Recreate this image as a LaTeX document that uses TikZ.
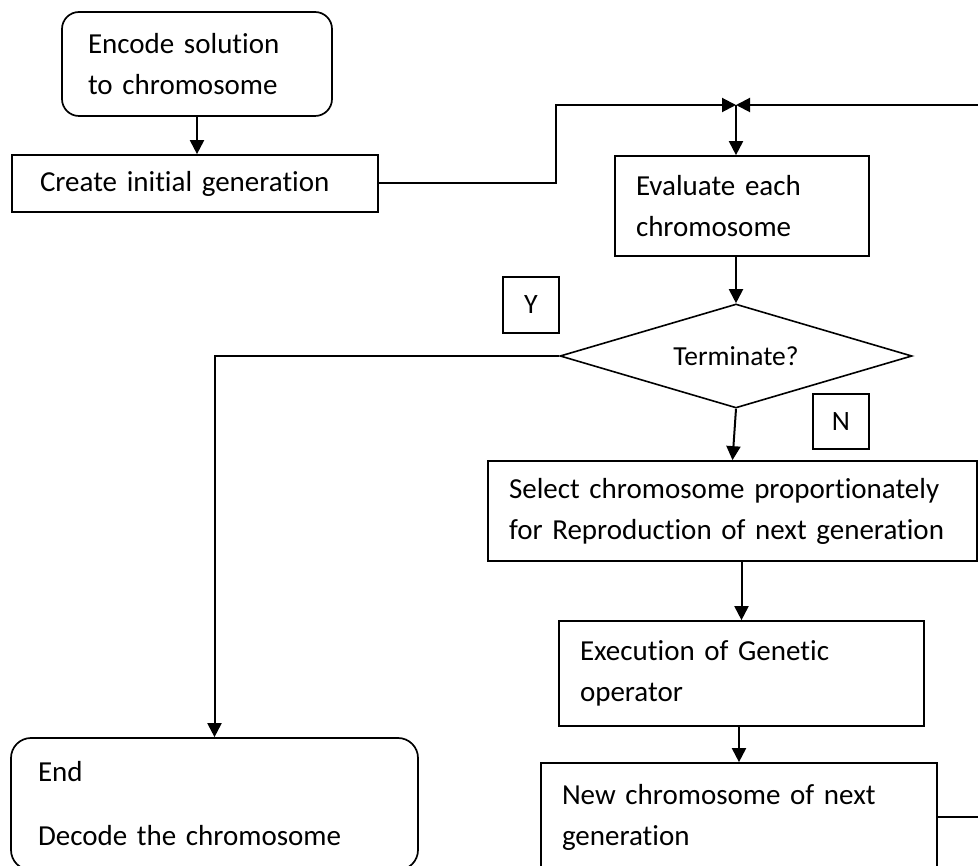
\documentclass[tikz,border=0pt]{standalone}
\usepackage{fontspec}
\setmainfont{Carlito}[Ligatures={NoCommon}]
\usetikzlibrary{shapes.geometric,arrows.meta}

\tikzset{
  stepbox/.style={draw, line width=1.7pt, rectangle, align=left,
    font=\fontsize{29pt}{41pt}\selectfont, inner ysep=0pt},
  roundbox/.style={stepbox, rounded corners=#1},
  decision/.style={draw, line width=1.6pt, diamond, inner sep=0pt,
    shape aspect=3.385, font=\fontsize{27.5pt}{30pt}\selectfont},
  tagbox/.style={draw, line width=1.3pt, rectangle, inner sep=0pt,
    minimum width=56pt, minimum height=56pt,
    font=\fontsize{28pt}{30pt}\selectfont},
  flow/.style={line width=2pt, -{Triangle[length=14pt,width=14pt]}},
}

\begin{document}
\begin{tikzpicture}[x=1pt, y=-1pt]
  \useasboundingbox (0,0) rectangle (978,866);

  % process boxes
  \node[roundbox=17pt, minimum width=270pt, minimum height=104pt,
        inner xsep=26pt, text width=218pt] (encode) at (197,64)
        {Encode solution\\to chromosome};
  \node[stepbox, minimum width=366pt, minimum height=57pt,
        inner xsep=28pt, text width=310pt] (create) at (195,183.5)
        {Create initial generation};
  \node[stepbox, minimum width=254pt, minimum height=100pt,
        inner xsep=21pt, text width=212pt] (eval) at (742,206)
        {Evaluate each\\chromosome};
  \node[decision, minimum width=352pt, minimum height=104pt] (dia) at (736,356)
        {\raisebox{-4pt}{Terminate?}};
  \node[tagbox] (yes) at (531,305) {Y};
  \node[tagbox, minimum height=55pt] (no) at (841,421.5) {N};
  \node[stepbox, minimum width=489pt, minimum height=100pt,
        inner xsep=21pt, text width=447pt] (select) at (732.5,511)
        {Select chromosome proportionately\\for Reproduction of next generation};
  \node[stepbox, minimum width=365pt, minimum height=105pt,
        inner xsep=21pt, text width=323pt] (exec) at (741.5,673.5)
        {Execution of Genetic\\operator};
  \node[stepbox, minimum width=396pt, minimum height=108pt,
        inner xsep=21pt, text width=354pt] (new) at (739,817)
        {New chromosome of next\\generation};
  \node[roundbox=20pt, minimum width=407pt, minimum height=132pt,
        inner xsep=27pt, text width=353pt] (end) at (214.5,804)
        {End\\[23pt]Decode the chromosome};

  % junction above the evaluation step and routing points
  \coordinate (junc) at (736,105);
  \coordinate (bendA) at (556,105);
  \coordinate (loopR) at (995,105);

  % connectors
  \draw[flow] (encode.south) -- (encode.south |- create.north);
  \draw[flow] (create.east) -| (bendA) -- (junc);
  \draw[flow] (new.east) -| (loopR) -- (junc);
  \draw[flow] (junc) -- (junc |- eval.north);
  \draw[flow] (eval.south -| dia.north) -- (dia.north);
  \draw[flow] (dia.south) -- (select.north);
  \draw[flow] (dia.west) -| (end.north);
  \draw[flow] (select.south -| exec.north) -- (exec.north);
  \draw[flow] (exec.south -| new.north) -- (new.north);
\end{tikzpicture}
\end{document}
